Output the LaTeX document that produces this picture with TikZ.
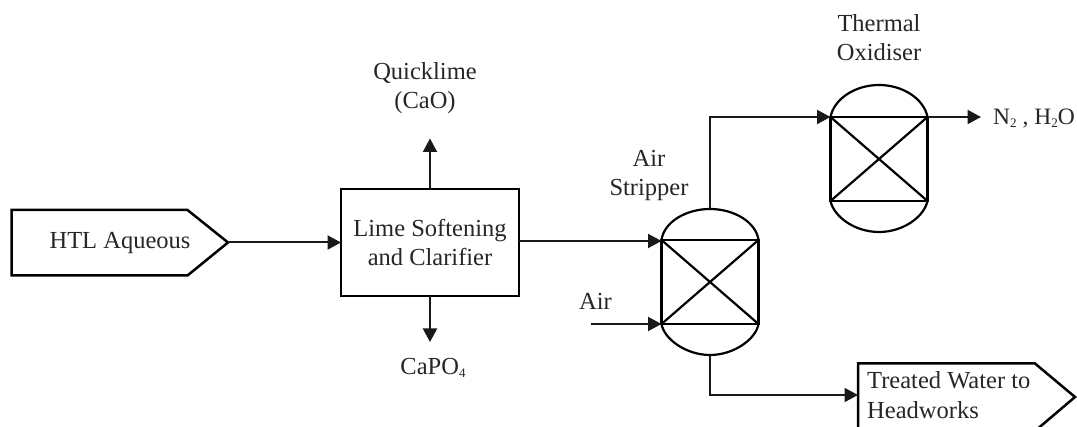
\documentclass[tikz,border=0pt]{standalone}
\usepackage{fontspec}
\setmainfont{Liberation Serif}
\usetikzlibrary{arrows.meta,calc}
\newcommand{\lowsub}[1]{\raisebox{-0.12em}{\fontsize{13}{13}\selectfont #1}}
\tikzset{
  x=1pt,y=-1pt,
  thick outline/.style={draw=black,line width=2.5pt,line join=miter},
  vesselbody/.style={draw=black,line width=2.6pt,minimum width=97pt,minimum height=84pt,inner sep=0pt,outer sep=0pt},
  vesselline/.style={black,line width=2.2pt},
  flow/.style={draw=black!90,line width=2pt,-{Triangle[length=13.5pt,width=14pt]}},
  lbl/.style={font=\fontsize{24.5}{29.5}\selectfont,text=black!85,align=center,inner sep=0pt}
}
\begin{document}
\begin{tikzpicture}
\useasboundingbox (0,0) rectangle (1077,427);
\clip (0,0) rectangle (1077,427);
% feed pentagon
\coordinate (htltip) at (228,242.5);
\draw[thick outline] (11.5,210) -- (187.5,210) -- (htltip) -- (187.5,275.5) -- (11.5,275.5) -- cycle;
\node[lbl] (htl) at (120,243) {HTL Aqueous};
% softening box
\node[draw=black,line width=2.5pt,minimum width=178pt,minimum height=107pt,inner sep=0pt,outer sep=0pt,lbl] (lime) at (430,242.5) {Lime Softening\\and Clarifier};
\coordinate (limefeed) at (lime.west |- htltip);
\coordinate (limeout) at (lime.east |- 0,241);
\coordinate (qtip) at (lime.north |- 0,138.5);
\coordinate (ctip) at (lime.south |- 0,342);
\draw[flow] (htltip) -- (limefeed);
\draw[flow] (lime.north) -- (qtip);
\draw[flow] (lime.south) -- (ctip);
\node[lbl] (quick) at (425,88) {Quicklime\\(CaO)};
\node[lbl] (capo) at (433,368) {CaPO\lowsub{4}};
% air stripper
\node[vesselbody] (strip) at (710,282) {};
\draw[vesselline] (strip.north west) -- (strip.south east) (strip.north east) -- (strip.south west);
\draw[vesselline] (strip.north west) .. controls (664,222) and (686,209) .. (710,209) coordinate (striptop) .. controls (734,209) and (756,222) .. (strip.north east);
\draw[vesselline] (strip.south west) .. controls (664,339) and (686,355) .. (710,355) coordinate (stripbot) .. controls (734,355) and (756,339) .. (strip.south east);
% thermal oxidiser
\node[vesselbody] (ox) at (879,159) {};
\draw[vesselline] (ox.north west) -- (ox.south east) (ox.north east) -- (ox.south west);
\draw[vesselline] (ox.north west) .. controls (834,99) and (855,85) .. (879,85) coordinate (oxtop) .. controls (903,85) and (924,99) .. (ox.north east);
\draw[vesselline] (ox.south west) .. controls (834,217) and (855,232) .. (879,232) coordinate (oxbot) .. controls (903,232) and (924,217) .. (ox.south east);
\node[lbl] (oxl) at (879,37.5) {Thermal\\Oxidiser};
\node[lbl] (stripl) at (649,175.5) {Air\\Stripper};
% product pentagon
\coordinate (ttip) at (1075,397);
\draw[thick outline] (858,363.5) -- (1035,363.5) -- (ttip) -- (1035,431) -- (858,431) -- cycle;
\node[lbl,align=left,anchor=west] (treated) at (867,395) {Treated Water to\\Headworks};
\coordinate (tin) at (858,395);
% connectors
\draw[flow] (limeout) -- (limeout -| strip.west);
\coordinate (airstart) at (strip.south west -| 591,0);
\draw[flow] (airstart) -- (strip.south west);
\node[lbl] (air) at (595.5,301) {Air};
\draw[flow] (striptop) |- (ox.north west);
\draw[flow] (stripbot) |- (tin);
\coordinate (nout) at (981,117);
\draw[flow] (ox.north east) -- (nout);
\node[lbl,anchor=west,font=\fontsize{23.5}{29}\selectfont] (nh) at (993,119) {N\lowsub{2} , H\lowsub{2}O};
\end{tikzpicture}
\end{document}
